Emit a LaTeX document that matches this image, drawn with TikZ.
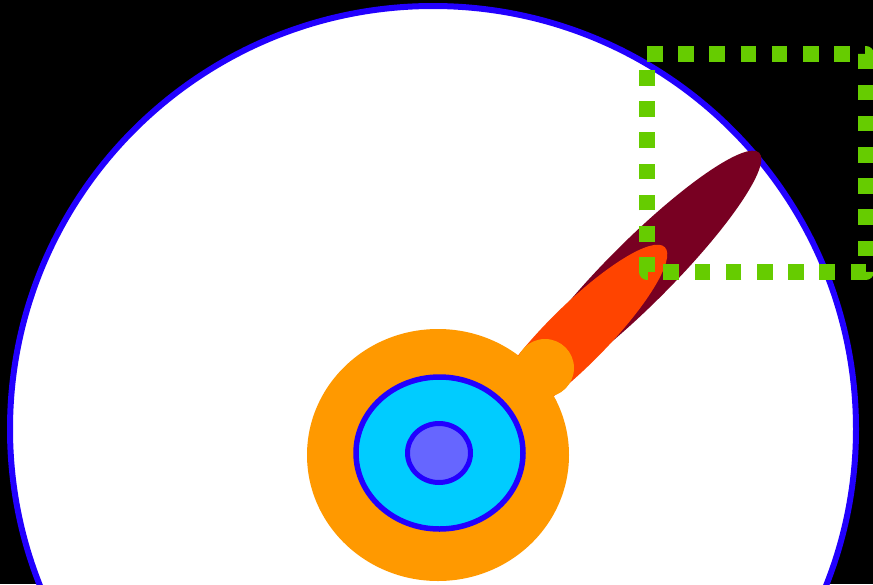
\documentclass[tikz,border=0pt]{standalone}
\begin{document}
\begin{tikzpicture}[x=1pt, y=-1pt]

  \definecolor{rimBlue}{HTML}{2200FF}
\definecolor{hubCyan}{HTML}{00CCFF}
\definecolor{hubCore}{HTML}{6666FF}
\definecolor{hubOrange}{HTML}{FF9900}
\definecolor{flameRed}{HTML}{FF4400}
\definecolor{flameDark}{HTML}{780022}
\definecolor{boxGreen}{HTML}{66CC00}

  % background and frame
  \fill[black] (0,0) rectangle (873,584);
  \useasboundingbox (0,0) rectangle (873,584);
  \clip (0,0) rectangle (873,584);

  % the big disc
  \draw[rimBlue, fill=white, line width=6pt] (433,429) circle[radius=423pt];

  % the two flames, long one first
  \fill[flameDark, rotate around={45:(639,273)}]
    (639,273) ellipse[x radius=170pt, y radius=32pt];
  \fill[flameRed, rotate around={45:(575,337)}]
    (575,337) ellipse[x radius=127pt, y radius=30pt];

  % the hub
  \fill[hubOrange] (545,368) circle[radius=29pt];
  \fill[hubOrange] (438,455) ellipse[x radius=131pt, y radius=126pt];
  \draw[rimBlue, fill=hubCyan, line width=5.5pt]
    (439.5,453) ellipse[x radius=83.5pt, y radius=76pt];
  \draw[rimBlue, fill=hubCore, line width=5pt]
    (439,453) ellipse[x radius=31.5pt, y radius=29.5pt];

  % dotted box in the corner (left open at the start, no join there)
  \draw[boxGreen, line width=15.6pt, line join=round,
        dash pattern=on 15.6pt off 15.6pt]
    (647,54) -- (866,54) -- (866,272) -- (647,272) -- (647,58);

\end{tikzpicture}
\end{document}
